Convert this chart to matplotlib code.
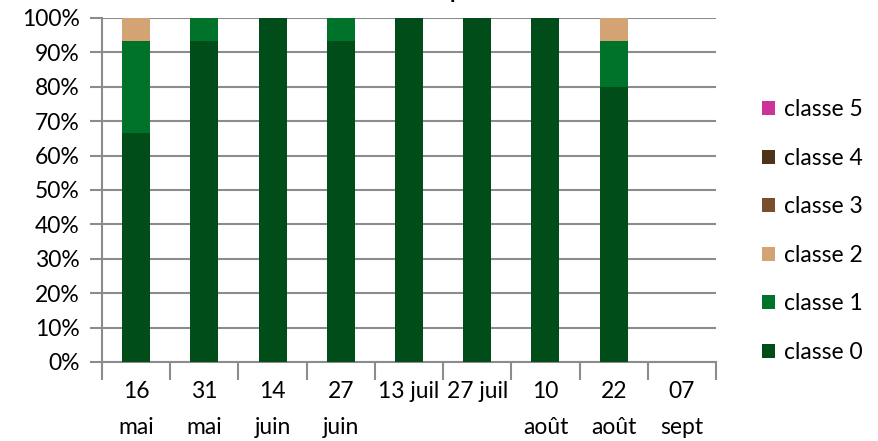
import matplotlib
matplotlib.use("Agg")
import matplotlib.pyplot as plt
import numpy as np

categories = ["16\nmai", "31\nmai", "14\njuin", "27\njuin", "13 juil\n", "27 juil\n", "10\naoût", "22\naoût", "07\nsept"]
classe0 = [66.7, 93.3, 100, 93.3, 100, 100, 100, 80.0, 0]
classe1 = [26.7, 6.7, 0, 6.7, 0, 0, 0, 13.3, 0]
classe2 = [6.6, 0, 0, 0, 0, 0, 0, 6.7, 0]
classe3 = [0, 0, 0, 0, 0, 0, 0, 0, 0]
classe4 = [0, 0, 0, 0, 0, 0, 0, 0, 0]
classe5 = [0, 0, 0, 0, 0, 0, 0, 0, 0]
series_names = ["classe 0", "classe 1", "classe 2", "classe 3", "classe 4", "classe 5"]
colors = ["#004D1A", "#00732A", "#D4A373", "#7A4E2A", "#4E3219", "#CC3399"]

plt.rcParams['font.family'] = ['Lato', 'DejaVu Sans']
FS = 16.5
fig = plt.figure(figsize=(8.79, 4.41), dpi=100)
ax = fig.add_axes([102/879, 1-362/441, 614/879, 344/441])

x = np.arange(len(categories))
series = [classe0, classe1, classe2, classe3, classe4, classe5]
bottom = np.zeros(len(categories))
handles = []
for name, vals, c in zip(series_names, series, colors):
    v = np.array(vals, dtype=float)
    h = ax.bar(x, v, 0.41, bottom=bottom, color=c, label=name, zorder=3)
    handles.append(h)
    bottom += v

ax.set_xlim(-0.5, len(categories) - 0.5)
ax.set_ylim(0, 100)
ax.set_yticks(np.arange(0, 101, 10))
ax.set_yticklabels([f"{v}%" for v in range(0, 101, 10)], fontsize=FS)
ax.yaxis.grid(True, color="#8c8c8c", lw=1.5, zorder=0)
ax.set_axisbelow(True)
ax.set_xticks(x)
ax.set_xticklabels(categories, fontsize=FS, linespacing=1.85)
ax.set_xticks(np.arange(-0.5, len(categories)), minor=True)
ax.tick_params(axis='x', which='major', length=0, pad=14)
ax.tick_params(axis='x', which='minor', length=13, color="#8c8c8c", width=1.5)
ax.tick_params(axis='y', length=9, color="#8c8c8c", width=1.5, pad=7)
for s in ["top", "right"]:
    ax.spines[s].set_visible(False)
for s in ["left", "bottom"]:
    ax.spines[s].set_color("#8c8c8c")
    ax.spines[s].set_linewidth(1.5)

leg = fig.legend(handles[::-1], series_names[::-1], loc="center left",
                 bbox_to_anchor=(741/879, 1-231/441), frameon=False,
                 fontsize=FS, handlelength=0.57, handleheight=0.57,
                 handletextpad=0.4, labelspacing=1.2)

fig.text(456/879, 1 + 2/441, "p", ha="center", va="baseline", fontsize=16, fontweight="bold")
fig.savefig("out.png", dpi=100)
